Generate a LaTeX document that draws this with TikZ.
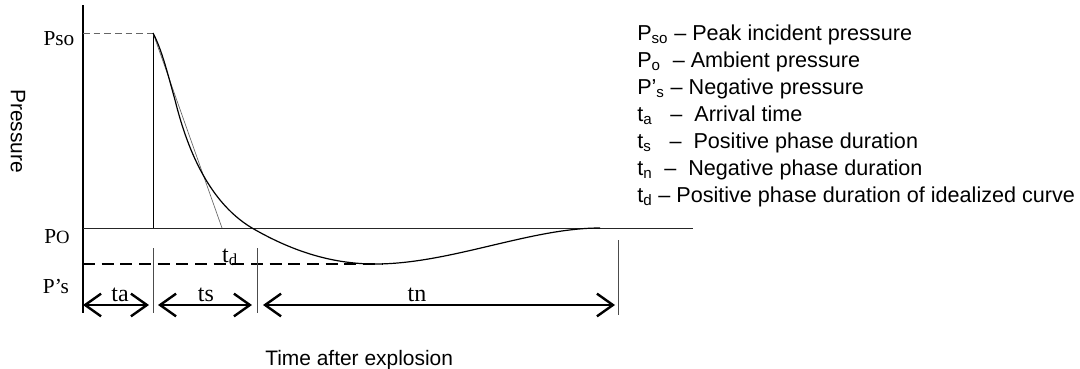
\documentclass[tikz,border=0pt]{standalone}
\usepackage{fontspec}
\setmainfont{Liberation Serif}
\newfontfamily\legendfont{Liberation Sans}
\usetikzlibrary{arrows.meta}

\tikzset{
  barb/.tip={Straight Barb[length=12pt,width=17pt]},
  dimline/.style={line width=1.8pt,barb-barb},
  tickline/.style={line width=0.75pt,black!70},
  axlabel/.style={font=\fontsize{16}{16}\selectfont,inner sep=0pt,anchor=base},
  durlabel/.style={font=\fontsize{18}{18}\selectfont,inner sep=0pt,anchor=base},
  legline/.style={font=\legendfont\fontsize{16.2}{20}\selectfont,inner sep=0pt,anchor=base west},
  sidetext/.style={font=\legendfont\fontsize{15.7}{16}\selectfont,inner sep=0pt}
}

\begin{document}
\begin{tikzpicture}[x=0.75pt,y=-0.75pt]
			%%%%% FRAME %%%%%
			\useasboundingbox (0, 0) rectangle (1080, 368);
			
			\coordinate (peak) at (153, 33);
			\coordinate (cross) at (252, 228);
			\coordinate (low) at (375, 264);
			\coordinate (back) at (600, 228);
			
			%%%%% AXIS AND LEVELS %%%%%
			\draw[line width=1.8pt] (83, 5) -- (83, 313);
			\draw[black!60, line width=0.75pt, dash pattern=on 5pt off 3pt] (83, 33) -- (peak);
			\draw[black!85, line width=0.75pt] (83, 228) -- (693, 228);
			\draw[line width=1.8pt, dash pattern=on 9pt off 5pt] (83, 264) -- (383, 264);
			\draw[line width=0.75pt] (peak) -- (153, 228);
			
			%%%%% CURVES %%%%%
			\draw[black!60, line width=0.5pt] (peak) -- (222, 228);
			\draw[line width=0.9pt] (peak) .. controls (162, 50) and (168, 75) .. (175, 100)
			  .. controls (185, 140) and (205, 200) .. (cross)
			  .. controls (290, 250) and (330, 264) .. (low)
			  .. controls (450, 264) and (530, 228) .. (back);
			
			%%%%% TICKS AND DURATIONS %%%%%
			\draw[tickline] (153, 248) -- (153, 313);
			\draw[tickline] (257, 248) -- (257, 313);
			\draw[tickline] (618, 240) -- (618, 315);
			
			\coordinate (ta0) at (83, 305);
			\coordinate (ta1) at (149, 305);
			\coordinate (ts0) at (158, 305);
			\coordinate (ts1) at (252, 305);
			\coordinate (tn0) at (263, 305);
			\coordinate (tn1) at (615, 305);
			\draw[dimline] (ta0) -- (ta1);
			\draw[dimline] (ts0) -- (ts1);
			\draw[dimline] (tn0) -- (tn1);
			
			%%%%% LABELS %%%%%
			\node[axlabel] (pso) at (59, 45) {Pso};
			\node[axlabel] (po) at (57, 243) {P{\fontsize{14}{14}\selectfont O}};
			\node[axlabel] (pneg) at (56, 293) {P’s};
			\node[durlabel] (ta) at (120, 301) {ta};
			\node[durlabel] (ts) at (206, 301) {ts};
			\node[durlabel] (tn) at (417, 301) {tn};
			\node[durlabel] (td) at (230, 262) {t\textsubscript{d}};
			
			\node[sidetext, rotate=-90] (pressure) at (18, 131) {Pressure};
			\node[sidetext, anchor=base west] (time) at (265, 365) {Time after explosion};
			
			%%%%% LEGEND %%%%%
			\node[legline] (lgpso) at (637, 40) {P\textsubscript{so} – Peak incident pressure};
			\node[legline] (lgpo) at (637, 67) {P\textsubscript{o}\ \ – Ambient pressure};
			\node[legline] (lgpneg) at (637, 94) {P’\textsubscript{s} – Negative pressure};
			\node[legline] (lgta) at (637, 121) {t\textsubscript{a}\ \ \ –\ \ Arrival time};
			\node[legline] (lgts) at (637, 148) {t\textsubscript{s}\ \ \ –\ \ Positive phase duration};
			\node[legline] (lgtn) at (637, 175) {t\textsubscript{n}\ \ –\ \ Negative phase duration};
			\node[legline] (lgtd) at (637, 202) {t\textsubscript{d}\ – Positive phase duration of idealized curve};
			
			%%%%% END %%%%%
\end{tikzpicture}
\end{document}
